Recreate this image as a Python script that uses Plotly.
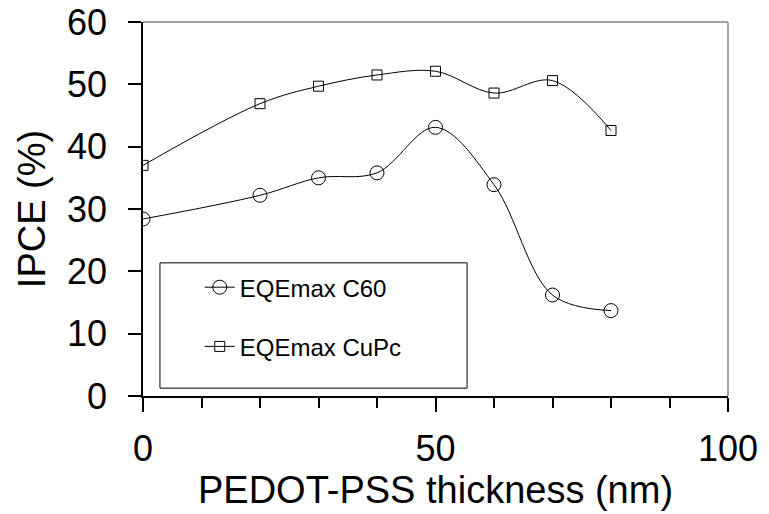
import plotly.graph_objects as go

thickness = [0, 20, 30, 40, 50, 60, 70, 80]
eqe_c60 = [28.4, 32.2, 35.0, 35.8, 43.1, 33.9, 16.2, 13.7]
eqe_cupc = [37.0, 46.9, 49.7, 51.5, 52.1, 48.6, 50.6, 42.6]
x_ticks = [0, 50, 100]
y_ticks = [0, 10, 20, 30, 40, 50, 60]

FONT = "Liberation Sans, Arial, sans-serif"

fig = go.Figure()
fig.add_trace(go.Scatter(
    x=thickness, y=eqe_c60, name="EQEmax C60", mode="lines+markers",
    line=dict(color="black", width=1, shape="spline"),
    marker=dict(symbol="circle-open", size=14, color="black", line=dict(width=1)),
    legendgroup="a",
))
fig.add_trace(go.Scatter(
    x=thickness, y=eqe_cupc, name="EQEmax CuPc", mode="lines+markers",
    line=dict(color="black", width=1, shape="spline"),
    marker=dict(symbol="square-open", size=10, color="black", line=dict(width=1)),
    legendgroup="b",
))

# gray frame top and right
fig.add_shape(type="line", xref="paper", yref="paper", x0=0, x1=1, y0=1, y1=1,
              line=dict(color="#888888", width=1.5), layer="below")
fig.add_shape(type="line", xref="paper", yref="paper", x0=1, x1=1, y0=0, y1=1,
              line=dict(color="#888888", width=1.5), layer="below")
# legend box
fig.add_shape(type="rect", xref="paper", yref="paper", x0=0.029, x1=0.554, y0=0.021, y1=0.356,
              line=dict(color="black", width=1), fillcolor="white", layer="below")

fig.update_layout(
    width=769, height=514,
    margin=dict(l=135, r=49, t=14, b=126),
    paper_bgcolor="white", plot_bgcolor="white",
    font=dict(family=FONT, color="black"),
    showlegend=True,
    legend=dict(
        x=0.097, y=0.35, xanchor="left", yanchor="top",
        borderwidth=0, bgcolor="rgba(0,0,0,0)",
        font=dict(size=24, family=FONT), tracegroupgap=25,
        itemwidth=30,
    ),
    xaxis=dict(
        range=[0, 100], tickvals=x_ticks, ticks="outside", ticklen=14, tickwidth=1.5,
        tickcolor="black", showline=True, linecolor="black", linewidth=1.5,
        showgrid=False, zeroline=False, tickfont=dict(size=36),
        ticklabelstandoff=6, automargin=False, ticklabeloverflow="allow",
        minor=dict(dtick=10, ticks="outside", ticklen=10, tickcolor="black", tickwidth=1.5, showgrid=False),
        title=dict(text="PEDOT-PSS thickness (nm)", font=dict(size=38), standoff=0),
    ),
    yaxis=dict(
        range=[0, 60], tickvals=y_ticks, ticks="outside", ticklen=13, tickwidth=1.5,
        tickcolor="black", showline=True, linecolor="black", linewidth=1.5,
        showgrid=False, zeroline=False, tickfont=dict(size=36),
        ticklabelstandoff=14, automargin=False, ticklabeloverflow="allow",
        title=dict(text="IPCE (%)", font=dict(size=38), standoff=10),
    ),
)

fig.write_html("out.html")
